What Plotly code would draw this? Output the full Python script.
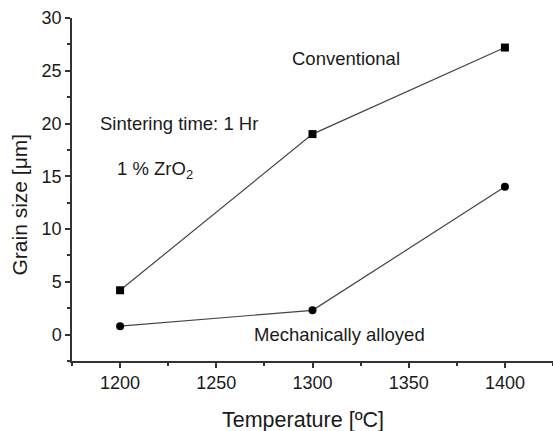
import plotly.graph_objects as go

temps = [1200, 1300, 1400]
conventional = [4.2, 19.0, 27.2]
mech_alloyed = [0.8, 2.3, 14.0]
x_ticks = [1200, 1250, 1300, 1350, 1400]
y_ticks = [0, 5, 10, 15, 20, 25, 30]

FONT = "Liberation Sans, Arial, sans-serif"
LINE = "#444444"
TXT = "#1a1a1a"

fig = go.Figure()
fig.add_trace(go.Scatter(x=temps, y=conventional, mode="lines+markers",
                         line=dict(color=LINE, width=1.2),
                         marker=dict(symbol="square", size=8, color="black")))
fig.add_trace(go.Scatter(x=temps, y=mech_alloyed, mode="lines+markers",
                         line=dict(color=LINE, width=1.2),
                         marker=dict(symbol="circle", size=8, color="black")))

ann_font = dict(family=FONT, size=18.5, color=TXT)
fig.add_annotation(x=1288.3, y=26.2, text="Conventional", showarrow=False,
                   xanchor="left", font=ann_font)
fig.add_annotation(x=1188.6, y=20.0, text="Sintering time: 1 Hr", showarrow=False,
                   xanchor="left", font=ann_font)
fig.add_annotation(x=1197.4, y=15.6, text="1 % ZrO<sub>2</sub>", showarrow=False,
                   xanchor="left", font=ann_font)
fig.add_annotation(x=1359.4, y=0.0, text="Mechanically alloyed", showarrow=False,
                   xanchor="right", font=ann_font)

# axis titles (placed as paper annotations to match reference offsets)
fig.add_annotation(xref="paper", yref="paper", x=0.48, y=-0.212,
                   text="Temperature [ºC]", showarrow=False,
                   font=dict(family=FONT, size=21.5, color=TXT))
fig.add_annotation(xref="paper", yref="paper", x=-0.137, y=0.455,
                   text="Grain size [μm]", showarrow=False, textangle=-90,
                   font=dict(family=FONT, size=21, color=TXT))

axis_common = dict(ticks="outside", ticklen=5, tickwidth=1.5, tickcolor="#333",
                   showline=True, linecolor="#333", linewidth=1.5, showgrid=False,
                   zeroline=False, tickfont=dict(size=18, family=FONT, color=TXT))

fig.update_layout(
    width=553, height=431,
    margin=dict(l=72, r=0, t=18, b=70),
    paper_bgcolor="white", plot_bgcolor="white",
    showlegend=False,
    font=dict(family=FONT, color=TXT),
    xaxis=dict(range=[1175, 1425], tickvals=x_ticks,
               minor=dict(ticks="outside", ticklen=3, dtick=25, tick0=1175, tickcolor="#333"),
               **axis_common),
    yaxis=dict(range=[-2.5, 30], tickvals=y_ticks,
               minor=dict(ticks="outside", ticklen=3, dtick=2.5, tick0=0, tickcolor="#333"),
               **axis_common),
)

fig.write_html("out.html", config={"displayModeBar": False},
               post_script="document.body.style.margin='0';document.body.style.padding='0';")
